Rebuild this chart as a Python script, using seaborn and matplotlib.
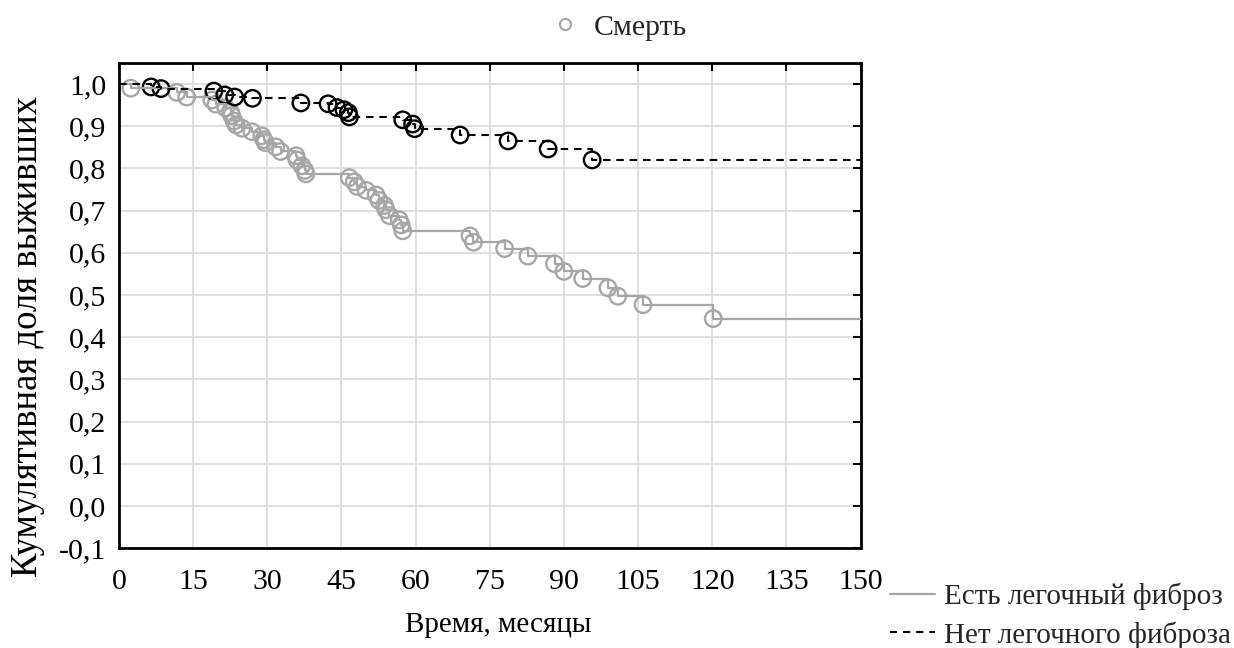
import numpy as np
import pandas as pd
import matplotlib
matplotlib.use("Agg")
import matplotlib.pyplot as plt
from matplotlib.lines import Line2D
import seaborn as sns

# Kaplan-Meier estimates: event times (months) and survival after each event
fib_times = [2.4, 11.7, 13.7, 18.8, 19.6, 21.6, 22.6, 22.8, 23.3, 23.7,
             24.9, 26.9, 28.9, 29.3, 29.6, 31.7, 32.7, 35.8, 36.0, 37.0,
             37.6, 37.8, 46.6, 47.6, 48.2, 50.0, 52.0, 52.6, 53.7, 54.0,
             54.7, 56.7, 57.1, 57.4, 71.0, 71.7, 78.0, 82.7, 88.1, 90.0,
             93.8, 98.9, 100.9, 106.0, 120.2]
fib_surv = [0.990, 0.980, 0.969, 0.962, 0.952, 0.943, 0.933, 0.925, 0.912, 0.903,
            0.895, 0.887, 0.877, 0.868, 0.861, 0.851, 0.840, 0.830, 0.820, 0.806,
            0.795, 0.787, 0.778, 0.768, 0.757, 0.748, 0.737, 0.724, 0.712, 0.702,
            0.688, 0.678, 0.666, 0.652, 0.640, 0.625, 0.610, 0.592, 0.574, 0.556,
            0.539, 0.517, 0.497, 0.477, 0.444]

nofib_times = [6.5, 8.5, 19.2, 21.4, 23.4, 27.0, 36.8, 42.3, 44.1, 45.5,
               46.4, 46.6, 57.4, 59.4, 59.8, 69.0, 78.7, 86.8, 95.7]
nofib_surv = [0.993, 0.989, 0.983, 0.974, 0.969, 0.966, 0.955, 0.953, 0.944, 0.939,
              0.932, 0.922, 0.915, 0.905, 0.894, 0.879, 0.865, 0.846, 0.820]

label_fib = "Есть легочный фиброз"
label_nofib = "Нет легочного фиброза"
x_ticks = list(range(0, 151, 15))
y_ticks = [round(-0.1 + 0.1 * i, 1) for i in range(12)]
t_max = 150

GREY = "#a6a6a6"
BLACK = "#000000"

sns.set_theme(style="white")
plt.rcParams["font.family"] = ["Liberation Serif", "DejaVu Serif"]


def step_frame(times, surv):
    return pd.DataFrame({"t": [0.0] + list(times) + [t_max],
                         "s": [1.0] + list(surv) + [surv[-1]]})


fig = plt.figure(figsize=(12.34, 6.48), dpi=100)
ax = fig.add_axes([0.0964, 0.154, 0.601, 0.749])

ax.grid(True, color="#dddddd", linewidth=1.3)
ax.set_axisbelow(True)

# event markers
sns.scatterplot(x=fib_times, y=fib_surv, ax=ax, marker="o", s=140,
                facecolors="none", edgecolor=GREY, linewidth=1.7, zorder=1.5)
sns.scatterplot(x=nofib_times, y=nofib_surv, ax=ax, marker="o", s=140,
                facecolors="none", edgecolor=BLACK, linewidth=1.7, zorder=1.5)

# survival step curves
fib_df = step_frame(fib_times, fib_surv)
nofib_df = step_frame(nofib_times, nofib_surv)
sns.lineplot(data=fib_df, x="t", y="s", ax=ax, estimator=None, sort=False,
             drawstyle="steps-post", color=GREY, linewidth=1.6, zorder=3)
sns.lineplot(data=nofib_df, x="t", y="s", ax=ax, estimator=None, sort=False,
             drawstyle="steps-post", color=BLACK, linewidth=1.5, zorder=3,
             dashes=False, linestyle=(0, (3.6, 2.8)))

ax.set_xlim(0, 150)
ax.set_ylim(-0.1, 1.05)
ax.set_xticks(x_ticks)
ax.set_xticklabels([str(v) for v in x_ticks])
ax.set_yticks(y_ticks)
ax.set_yticklabels([f"{v:.1f}".replace(".", ",") for v in y_ticks])

ax.tick_params(axis="both", which="major", direction="in", length=6, width=1.5,
               labelsize=21.5, colors="black", top=True, right=True,
               labeltop=False, labelright=False)
ax.tick_params(axis="x", pad=15)
ax.tick_params(axis="y", pad=9)
for sp in ax.spines.values():
    sp.set_visible(True)
    sp.set_color("black")
    sp.set_linewidth(2.0)

ax.set_xlabel("Время, месяцы", fontsize=21, labelpad=12, color="black")
ax.set_ylabel("Кумулятивная доля выживших", fontsize=26.5, labelpad=10, color="black")
ax.xaxis.label.set_x(0.511)
ax.yaxis.label.set_y(0.437)

# top legend: event marker
death_handle = Line2D([], [], linestyle="none", marker="o", markersize=8,
                      markerfacecolor="none", markeredgecolor=GREY, markeredgewidth=1.5)
fig.legend(handles=[death_handle], labels=["Смерть"], loc="center",
           bbox_to_anchor=(0.5025, 0.958), frameon=False, fontsize=21.5,
           handlelength=0.8, handletextpad=0.55, borderpad=0)

# bottom-right legend: group line styles
group_handles = [
    Line2D([], [], color=GREY, linewidth=1.6),
    Line2D([], [], color=BLACK, linewidth=1.5, linestyle=(0, (3.4, 2.9))),
]
fig.legend(handles=group_handles, labels=[label_fib, label_nofib],
           loc="upper left", bbox_to_anchor=(0.721, 0.1005), frameon=False,
           fontsize=21, handlelength=1.55, handletextpad=0.3, labelspacing=0.37,
           borderaxespad=0, borderpad=0)

fig.savefig("out.png", dpi=100)
